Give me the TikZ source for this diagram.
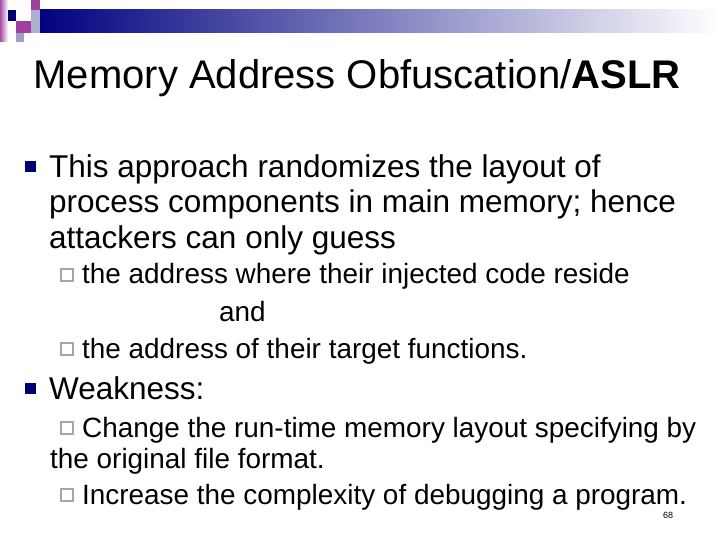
\documentclass[tikz,border=0pt]{standalone}
\usepackage{fontspec}
\setmainfont{Liberation Sans}
\begin{document}
\begin{tikzpicture}[x=1pt,y=-1pt,
  body/.style={anchor=base west,inner sep=0pt,font=\fontsize{31.5}{34}\selectfont},
  sub/.style={anchor=base west,inner sep=0pt,font=\fontsize{27.9}{29}\selectfont},
  bul/.style={fill=blue!45!black,minimum size=11pt,inner sep=0pt},
  sbul/.style={draw=gray!70,line width=1.6pt,minimum size=12pt,inner sep=0pt}]
\useasboundingbox (0,0) rectangle (720,540);
\shade[left color=blue!50!black,right color=white] (36,10) rectangle (720,33);
\shade[left color=violet!70,right color=white] (0,0) rectangle (8,42);
\fill[blue!45!black] (8,10) rectangle (16,21);
\fill[violet!75] (16,21) rectangle (31,33);
\fill[violet!75] (31,0) rectangle (40,10);
\fill[blue!25!gray!50] (31,10) rectangle (40,33);
\fill[blue!25!gray!60] (16,33) rectangle (24,42);
\node[anchor=base,inner sep=0pt,font=\fontsize{40}{42}\selectfont] (title) at (357,89) {Memory Address Obfuscation/\textbf{ASLR}};
\node[bul] (b1) at (30,167) {};
\node[body] (t1) at (49,178) {This approach randomizes the layout of};
\node[body] (t2) at (49,213) {process components in main memory; hence};
\node[body] (t3) at (49,248) {attackers can only guess};
\node[sbul] (s1) at (67,275) {};
\node[sub] (u1) at (82,283) {the address where their injected code reside};
\node[sub] (u2) at (219,321) {and};
\node[sbul] (s2) at (67,349) {};
\node[sub] (u3) at (82,358) {the address of their target functions.};
\node[bul] (b2) at (30,388) {};
\node[body] (t4) at (49,399) {Weakness:};
\node[sbul] (s3) at (67,428) {};
\node[sub] (u4) at (82,437) {Change the run-time memory layout specifying by};
\node[sub] (u5) at (50,468) {the original file format.};
\node[sbul] (s4) at (67,495) {};
\node[sub] (u6) at (82,504) {Increase the complexity of debugging a program.};
\node[anchor=base,inner sep=0pt,font=\fontsize{9}{11}\selectfont] (pg) at (668,518) {68};
\end{tikzpicture}
\end{document}
